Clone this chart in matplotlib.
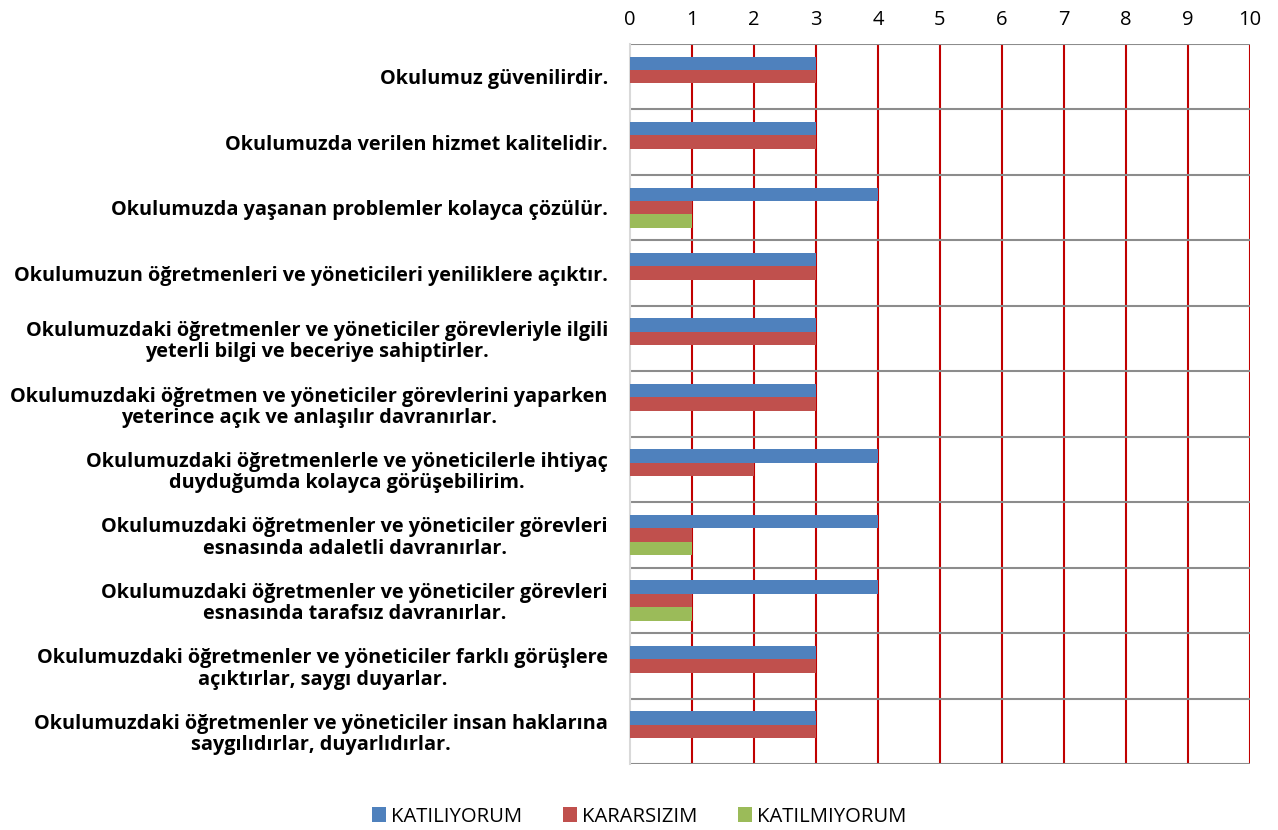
import numpy as np
import matplotlib.pyplot as plt

# Veriler
kategoriler = [
    "Okulumuz güvenilirdir.",
    "Okulumuzda verilen hizmet kalitelidir.",
    "Okulumuzda yaşanan problemler kolayca çözülür.",
    "Okulumuzun öğretmenleri ve yöneticileri yeniliklere açıktır.",
    "Okulumuzdaki öğretmenler ve yöneticiler görevleriyle ilgili\nyeterli bilgi ve beceriye sahiptirler.",
    "Okulumuzdaki öğretmen ve yöneticiler görevlerini yaparken\nyeterince açık ve anlaşılır davranırlar.",
    "Okulumuzdaki öğretmenlerle ve yöneticilerle ihtiyaç\nduyduğumda kolayca görüşebilirim.",
    "Okulumuzdaki öğretmenler ve yöneticiler görevleri\nesnasında adaletli davranırlar.",
    "Okulumuzdaki öğretmenler ve yöneticiler görevleri\nesnasında tarafsız davranırlar.",
    "Okulumuzdaki öğretmenler ve yöneticiler farklı görüşlere\naçıktırlar, saygı duyarlar.",
    "Okulumuzdaki öğretmenler ve yöneticiler insan haklarına\nsaygılıdırlar, duyarlıdırlar.",
]
katiliyorum = [3, 3, 4, 3, 3, 3, 4, 4, 4, 3, 3]
kararsizim = [3, 3, 1, 3, 3, 3, 2, 1, 1, 3, 3]
katilmiyorum = [0, 0, 1, 0, 0, 0, 0, 1, 1, 0, 0]
seri_adlari = ["KATILIYORUM", "KARARSIZIM", "KATILMIYORUM"]
renkler = ["#4F81BD", "#C0504D", "#9BBB59"]

plt.rcParams['font.family'] = ['Open Sans', 'DejaVu Sans']

fig = plt.figure(figsize=(12.78, 8.30), dpi=100)
ax = fig.add_axes([0.493, 0.0795, 0.485, 0.8675])

y = np.arange(len(kategoriler))
h = 0.205
for i, (vals, ad, renk) in enumerate(zip([katiliyorum, kararsizim, katilmiyorum], seri_adlari, renkler)):
    ax.barh(y + (i - 1) * h, vals, height=h, color=renk, label=ad, zorder=3)

ax.set_xlim(0, 10)
ax.set_ylim(len(kategoriler) - 0.5, -0.5)
ax.set_xticks(range(11))
ax.xaxis.tick_top()
ax.tick_params(axis='x', length=0, pad=10, labelsize=14.5)
ax.set_yticks(y)
ax.set_yticklabels(kategoriler, fontsize=14.3, fontweight='bold',
                   multialignment='center', linespacing=1.08)
ax.tick_params(axis='y', length=0, pad=16)

# Izgara çizgileri
for x in range(1, 11):
    ax.axvline(x, color='#C00000', lw=1.5, zorder=1)
for b in np.arange(-0.5, len(kategoriler), 1):
    ax.axhline(b, color='#8C8C8C', lw=1.5, zorder=2)

for s in ['top', 'right', 'bottom']:
    ax.spines[s].set_visible(False)
ax.spines['left'].set_color('#D9D9D9')
ax.spines['left'].set_linewidth(1.5)

fig.legend(loc='lower center', bbox_to_anchor=(0.5, -0.018), ncol=3, frameon=False,
           fontsize=14.6, handlelength=0.7, handleheight=0.7, columnspacing=2.0,
           handletextpad=0.25)

plt.savefig('out.png')
